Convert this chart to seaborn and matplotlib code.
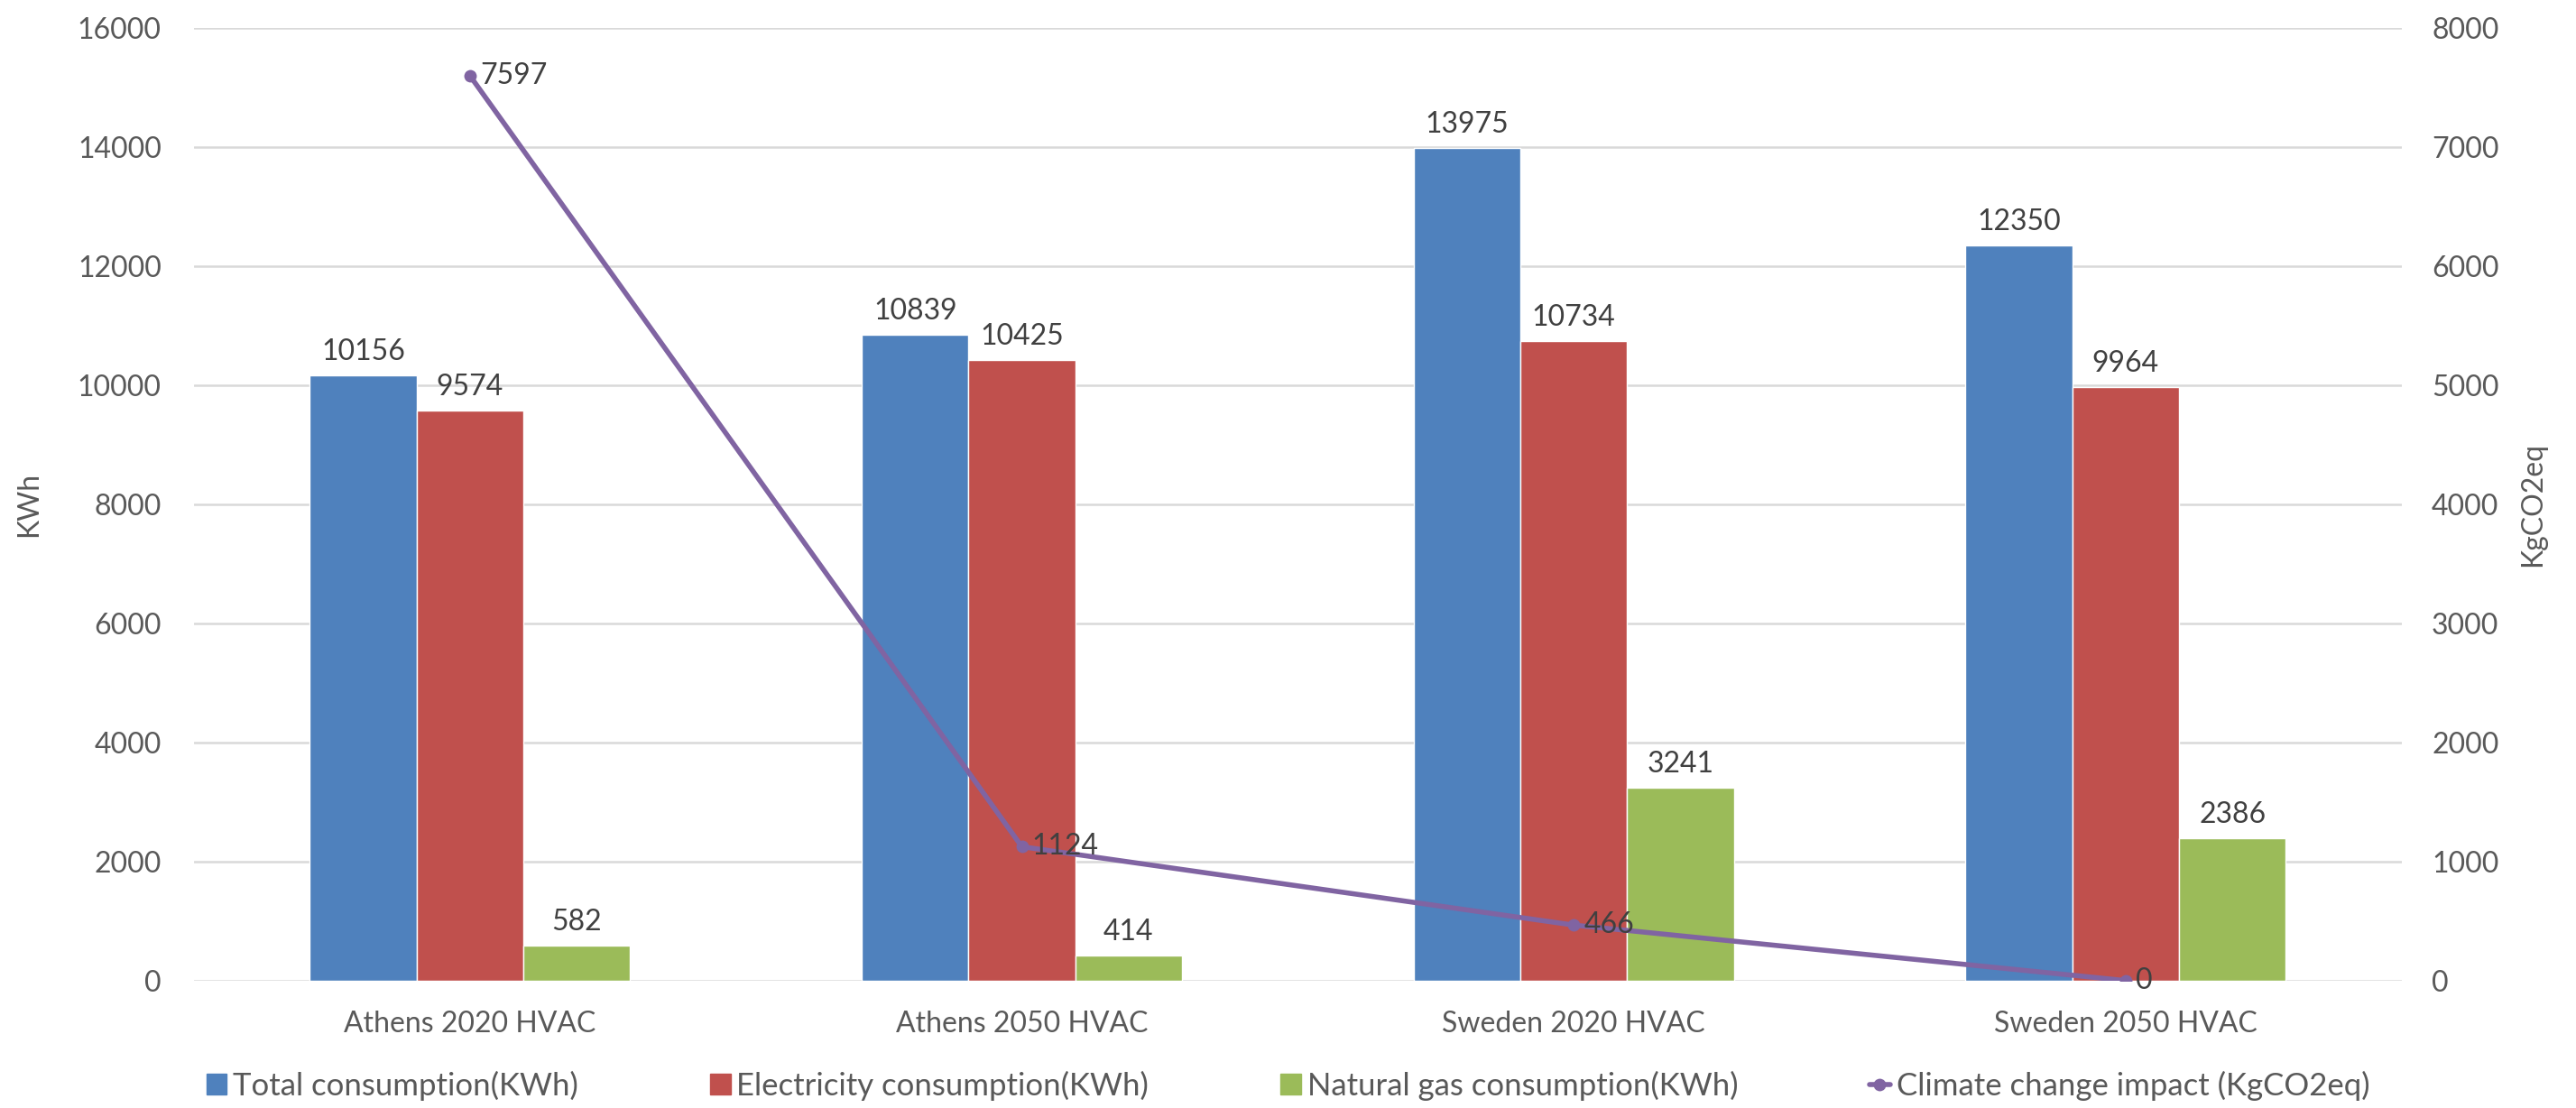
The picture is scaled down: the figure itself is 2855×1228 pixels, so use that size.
import pandas as pd
import numpy as np
import matplotlib
matplotlib.use("Agg")
import matplotlib.pyplot as plt
import seaborn as sns
from matplotlib.patches import Patch
from matplotlib.lines import Line2D

# data
scenarios = ["Athens 2020 HVAC", "Athens 2050 HVAC", "Sweden 2020 HVAC", "Sweden 2050 HVAC"]
total_kwh = [10156, 10839, 13975, 12350]
electricity_kwh = [9574, 10425, 10734, 9964]
gas_kwh = [582, 414, 3241, 2386]
climate_co2 = [7597, 1124, 466, 0]

series_names = ["Total consumption(KWh)", "Electricity consumption(KWh)",
                "Natural gas consumption(KWh)"]
line_name = "Climate change impact (KgCO2eq)"
colors = ["#4F81BD", "#C0504D", "#9BBB59"]
purple = "#8064A2"
text_col = "#595959"
label_col = "#404040"

sns.set_theme(style="white")
plt.rcParams["font.family"] = ["Lato", "DejaVu Sans"]
FS = 23

df = pd.DataFrame({
    "scenario": scenarios * 3,
    "series": sum([[s] * 4 for s in series_names], []),
    "value": total_kwh + electricity_kwh + gas_kwh,
})

fig = plt.figure(figsize=(28.55, 12.28), dpi=100)
ax = fig.add_axes([0.0753, 0.115, 0.857, 0.86])

sns.barplot(data=df, x="scenario", y="value", hue="series", palette=colors,
            width=0.58, saturation=1, ax=ax, legend=False, errorbar=None)

for cont in ax.containers:
    ax.bar_label(cont, fmt="%d", padding=8, fontsize=FS, color=label_col)

ax.set_ylim(0, 16000)
ax.set_yticks(np.arange(0, 16001, 2000))
ax.set_xlim(-0.5, 3.5)
ax.grid(axis="y", color="#D9D9D9", linewidth=1.8)
ax.set_axisbelow(True)
for s in ax.spines.values():
    s.set_visible(False)
ax.tick_params(axis="both", length=0, labelsize=FS, colors=text_col)
ax.tick_params(axis="y", pad=26)
ax.tick_params(axis="x", pad=24)
ax.set_xlabel("")
ax.set_ylabel("KWh", fontsize=FS, color=text_col, labelpad=28)

# climate impact line on the secondary axis
ax2 = ax.twinx()
sns.lineplot(x=scenarios, y=climate_co2, ax=ax2, color=purple, linewidth=4,
             marker="o", markersize=10, markeredgewidth=0, sort=False)
for sc, v in zip(scenarios, climate_co2):
    ax2.annotate(str(v), (sc, v), xytext=(8, 0), textcoords="offset points",
                 va="center", ha="left", fontsize=FS, color=label_col)
ax2.set_ylim(0, 8000)
ax2.set_yticks(np.arange(0, 8001, 1000))
for s in ax2.spines.values():
    s.set_visible(False)
ax2.tick_params(axis="y", length=0, labelsize=FS, colors=text_col, pad=24)
ax2.set_ylabel("KgCO2eq", fontsize=FS, color=text_col, labelpad=16)
ax2.grid(False)

handles = [Patch(facecolor=c, edgecolor=c) for c in colors]
handles.append(Line2D([0], [0], color=purple, linewidth=4, marker="o",
                      markersize=10, markeredgewidth=0))
fig.legend(handles, series_names + [line_name], loc="center",
           bbox_to_anchor=(0.5, 0.02), ncol=4, frameon=False, fontsize=25,
           labelcolor=text_col, handlelength=0.65, handleheight=0.65,
           handletextpad=0.2, columnspacing=4.2)

fig.savefig("out.png", dpi=100)
